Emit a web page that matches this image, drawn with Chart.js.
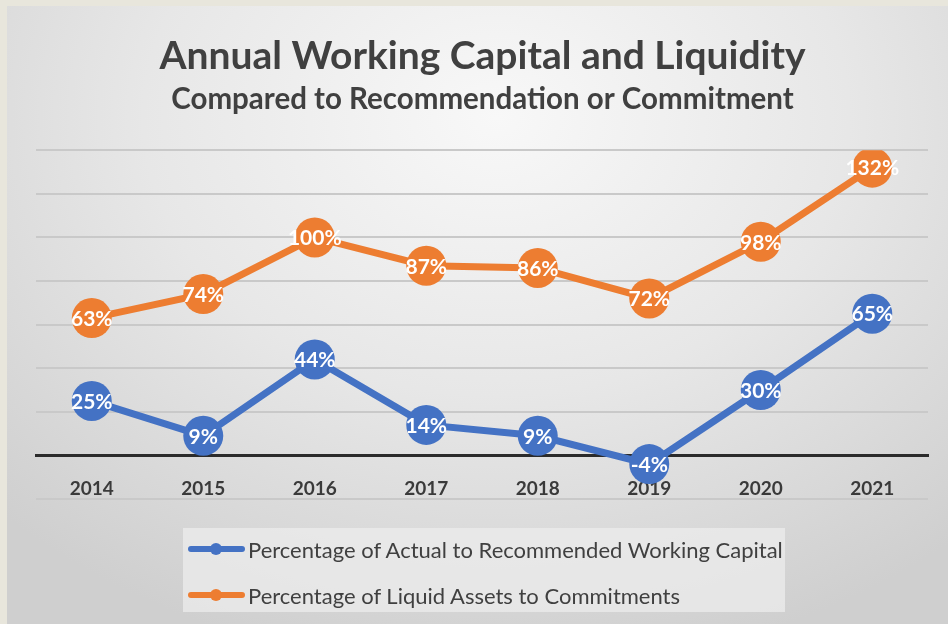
<!DOCTYPE html>
<html>
<head>
<meta charset="utf-8">
<script src="https://cdn.jsdelivr.net/npm/chart.js@4.4.0/dist/chart.umd.min.js"></script>
<style>
  html, body { margin: 0; padding: 0; }
  body { width: 948px; height: 624px; background: #e8e6dc; position: relative; overflow: hidden; font-family: Lato, "Open Sans", sans-serif; }
  #panel {
    position: absolute; left: 7px; top: 6px; width: 941px; height: 618px;
    background: radial-gradient(ellipse 75% 90% at 52% 18%, #f8f8f8 0%, #e7e7e7 50%, #cfcfcf 100%);
  }
  #wrap { position: absolute; left: 0; top: 0; width: 948px; height: 624px; }
  #legend {
    position: absolute; left: 183px; top: 528px; width: 602px; height: 84px;
    background: rgba(236,236,236,0.75);
  }
  .item { position: absolute; left: 5px; height: 26px; display: flex; align-items: center; color: #404040; font-size: 22px; white-space: nowrap; }
  .swatch { position: relative; width: 57px; height: 6px; border-radius: 3px; margin-right: 3px; }
  .swatch::after { content: ''; position: absolute; left: 22px; top: -3px; width: 12px; height: 12px; border-radius: 6px; background: inherit; }
</style>
</head>
<body>
<div id="panel"></div>
<div id="wrap"><canvas id="myChart" width="948" height="624"></canvas></div>
<div id="legend"></div>
<script>
const years = ['2014', '2015', '2016', '2017', '2018', '2019', '2020', '2021'];
const workingCapital = [25, 9, 44, 14, 9, -4, 30, 65];
const liquidAssets = [63, 74, 100, 87, 86, 72, 98, 132];
const seriesNames = ['Percentage of Actual to Recommended Working Capital', 'Percentage of Liquid Assets to Commitments'];
const seriesColors = ['#4472C4', '#ED7D31'];

// white % labels centred on each marker
const valueLabels = {
    id: 'valueLabels',
    afterDatasetsDraw(chart) {
        const ctx = chart.ctx;
        ctx.save();
        ctx.fillStyle = '#ffffff';
        ctx.font = 'bold 21px Lato';
        ctx.textAlign = 'center';
        ctx.textBaseline = 'middle';
        chart.data.datasets.forEach((ds, i) => {
            chart.getDatasetMeta(i).data.forEach((pt, j) => {
                ctx.fillText(ds.data[j] + '%', pt.x, pt.y + 1);
            });
        });
        ctx.restore();
    }
};

const chart = new Chart('myChart', {
    type: 'line',
    data: {
        labels: years,
        datasets: [{
            label: seriesNames[0],
            data: workingCapital,
            borderColor: seriesColors[0],
            backgroundColor: seriesColors[0],
            borderWidth: 7,
            pointRadius: 20,
            pointHoverRadius: 20,
            pointBorderWidth: 0
        }, {
            label: seriesNames[1],
            data: liquidAssets,
            borderColor: seriesColors[1],
            backgroundColor: seriesColors[1],
            borderWidth: 7,
            pointRadius: 20,
            pointHoverRadius: 20,
            pointBorderWidth: 0
        }]
    },
    options: {
        responsive: false,
        animation: false,
        events: [],
        layout: { padding: { left: 36, right: 19, bottom: 125, top: 0 } },
        plugins: {
            legend: { display: false },
            tooltip: { enabled: false },
            title: {
                display: true,
                text: 'Annual Working Capital and Liquidity',
                color: '#404040',
                font: { family: 'Lato', size: 39, weight: 'bold' },
                padding: { top: 33, bottom: 2 }
            },
            subtitle: {
                display: true,
                text: 'Compared to Recommendation or Commitment',
                color: '#404040',
                font: { family: 'Lato', size: 29.5, weight: 'bold' },
                padding: { top: 0, bottom: 33 }
            }
        },
        scales: {
            x: {
                position: { y: 0 },
                offset: true,
                grid: { display: false },
                border: { color: '#2b2b2b', width: 3 },
                ticks: { color: '#3a3a3a', font: { family: 'Lato', size: 19, weight: 'bold' }, padding: 14 }
            },
            y: {
                min: -20,
                max: 140,
                ticks: { display: false, stepSize: 20 },
                border: { display: false },
                grid: { color: '#c9c9c9', lineWidth: 2, drawTicks: false }
            }
        }
    },
    plugins: [valueLabels]
});

// legend rows
const legend = document.getElementById('legend');
seriesNames.forEach((name, i) => {
    const row = document.createElement('div');
    row.className = 'item';
    row.style.top = (8 + i * 46) + 'px';
    row.innerHTML = '<span class="swatch" style="background:' + seriesColors[i] + '"></span>' + name;
    legend.appendChild(row);
});
</script>
</body>
</html>
